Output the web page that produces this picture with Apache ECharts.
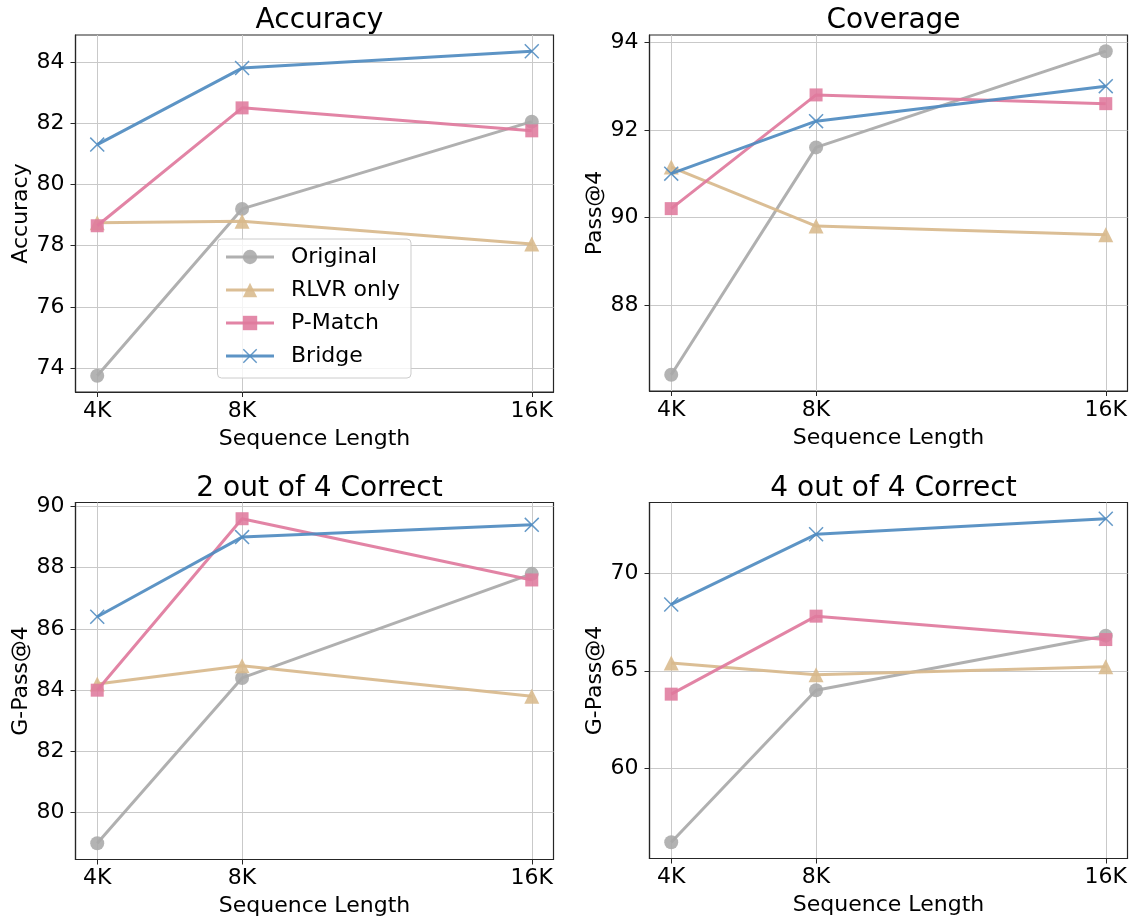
<!DOCTYPE html>
<html>
<head>
<meta charset="utf-8">
<title>Sequence length study</title>
<script src="https://cdn.jsdelivr.net/npm/echarts@6/dist/echarts.min.js"></script>
<style>
  html, body { margin: 0; padding: 0; background: #ffffff; }
  #chart { width: 1135px; height: 922px; }
</style>
</head>
<body>
<div id="chart"></div>
<script>
// Sequence lengths (in thousands of tokens) and their tick labels
const seqLen = [4, 8, 16];
const xTickLabels = ['4K', '8K', '16K'];

const methods = ['Original', 'RLVR only', 'P-Match', 'Bridge'];

// Accuracy
const accOriginal = [73.75, 79.2, 82.05];
const accRlvr = [78.75, 78.8, 78.05];
const accPMatch = [78.65, 82.5, 81.75];
const accBridge = [81.3, 83.8, 84.35];
const accTicks = [74, 76, 78, 80, 82, 84];

// Coverage (Pass@4)
const covOriginal = [86.4, 91.6, 93.8];
const covRlvr = [91.15, 89.8, 89.6];
const covPMatch = [90.2, 92.8, 92.6];
const covBridge = [91.0, 92.2, 93.0];
const covTicks = [88, 90, 92, 94];

// 2 out of 4 correct (G-Pass@4)
const g2Original = [79.0, 84.4, 87.8];
const g2Rlvr = [84.2, 84.8, 83.8];
const g2PMatch = [84.0, 89.6, 87.6];
const g2Bridge = [86.4, 89.0, 89.4];
const g2Ticks = [80, 82, 84, 86, 88, 90];

// 4 out of 4 correct (G-Pass@4)
const g4Original = [56.2, 64.0, 66.8];
const g4Rlvr = [65.4, 64.8, 65.2];
const g4PMatch = [63.8, 67.8, 66.6];
const g4Bridge = [68.4, 72.0, 72.8];
const g4Ticks = [60, 65, 70];

const colors = ['#a9a9a9', '#d8b98c', '#df7a9d', '#4f8bc0'];
const xMarker = 'path://M0,7 L7,0 L50,43 L93,0 L100,7 L57,50 L100,93 L93,100 L50,57 L7,100 L0,93 L43,50 Z';
const symbols = ['circle', 'triangle', 'rect', xMarker];
const symbolSizes = [14, 15, 13, 15];

const panels = [
  { title: 'Accuracy', yName: 'Accuracy', ticks: accTicks,
    series: [accOriginal, accRlvr, accPMatch, accBridge],
    grid: { left: 75.5, top: 35, width: 478, height: 357 } },
  { title: 'Coverage', yName: 'Pass@4', ticks: covTicks,
    series: [covOriginal, covRlvr, covPMatch, covBridge],
    grid: { left: 649.5, top: 35, width: 478, height: 356 } },
  { title: '2 out of 4 Correct', yName: 'G-Pass@4', ticks: g2Ticks,
    series: [g2Original, g2Rlvr, g2PMatch, g2Bridge],
    grid: { left: 75.5, top: 502.5, width: 478, height: 357 } },
  { title: '4 out of 4 Correct', yName: 'G-Pass@4', ticks: g4Ticks,
    series: [g4Original, g4Rlvr, g4PMatch, g4Bridge],
    grid: { left: 649.5, top: 502.5, width: 478, height: 356 } }
];

// 5% padding around the data range on each axis
function padded(lists) {
  const all = [].concat(...lists);
  const lo = Math.min(...all), hi = Math.max(...all);
  const m = (hi - lo) * 0.05;
  return [lo - m, hi + m];
}

const FONT = 'DejaVu Sans';
const frameColor = '#262626';
const gridColor = '#c9c9c9';

const option = {
  animation: false,
  backgroundColor: '#ffffff',
  textStyle: { fontFamily: FONT },
  title: [],
  grid: [],
  xAxis: [],
  yAxis: [],
  series: [],
  legend: {
    data: methods,
    orient: 'vertical',
    left: 217.5,
    top: 239,
    padding: [7, 11, 11, 7],
    itemWidth: 48,
    itemHeight: 18,
    itemGap: 11,
    lineStyle: { width: 3 },
    backgroundColor: 'rgba(255,255,255,0.8)',
    borderColor: '#cccccc',
    borderWidth: 1,
    borderRadius: 4,
    textStyle: { fontFamily: FONT, fontSize: 22, color: '#000', lineHeight: 22, padding: [0, 0, 0, 12] }
  }
};

const xRange = padded([seqLen]);

panels.forEach((p, i) => {
  const yRange = padded(p.series);
  const cx = p.grid.left + p.grid.width / 2;
  option.title.push({
    text: p.title,
    left: cx,
    textAlign: 'center',
    top: p.grid.top - 33,
    textStyle: { fontFamily: FONT, fontSize: 28, fontWeight: 'normal', color: '#000' }
  });
  option.grid.push(Object.assign({
    show: true, borderColor: frameColor, borderWidth: 1.2, backgroundColor: 'transparent'
  }, p.grid));
  option.xAxis.push({
    type: 'value', gridIndex: i,
    min: xRange[0], max: xRange[1],
    name: 'Sequence Length', nameLocation: 'middle', nameGap: 36,
    nameTextStyle: { fontFamily: FONT, fontSize: 22, color: '#000' },
    axisLine: { show: true, onZero: false, lineStyle: { color: frameColor, width: 1.2 } },
    axisTick: { show: true, length: 5, inside: false, customValues: seqLen, lineStyle: { color: frameColor, width: 1 } },
    axisLabel: {
      customValues: seqLen, margin: 8, fontFamily: FONT, fontSize: 22, color: '#000',
      formatter: v => xTickLabels[seqLen.indexOf(v)] ?? ''
    },
    splitLine: { show: true, lineStyle: { color: gridColor, width: 1 } }
  });
  option.yAxis.push({
    type: 'value', gridIndex: i,
    min: yRange[0], max: yRange[1],
    name: p.yName, nameLocation: 'middle', nameGap: 43, nameRotate: 90,
    nameTextStyle: { fontFamily: FONT, fontSize: 22, color: '#000' },
    axisLine: { show: true, onZero: false, lineStyle: { color: frameColor, width: 1.2 } },
    axisTick: { show: true, length: 5, inside: false, customValues: p.ticks, lineStyle: { color: frameColor, width: 1 } },
    axisLabel: { customValues: p.ticks, margin: 11, fontFamily: FONT, fontSize: 22, color: '#000', formatter: v => String(v) },
    splitLine: { show: true, lineStyle: { color: gridColor, width: 1 } }
  });
  p.series.forEach((vals, k) => {
    option.series.push({
      type: 'line',
      name: methods[k],
      xAxisIndex: i, yAxisIndex: i,
      data: seqLen.map((x, j) => [x, vals[j]]),
      symbol: symbols[k],
      symbolSize: symbolSizes[k],
      showSymbol: true,
      color: colors[k],
      lineStyle: { color: colors[k], width: 3, opacity: 0.92 },
      itemStyle: { color: colors[k], opacity: 0.88 },
      emphasis: { disabled: true },
      z: 2 + k
    });
  });
});

const chart = echarts.init(document.getElementById('chart'), null, { renderer: 'canvas' });
chart.setOption(option);
</script>
</body>
</html>
